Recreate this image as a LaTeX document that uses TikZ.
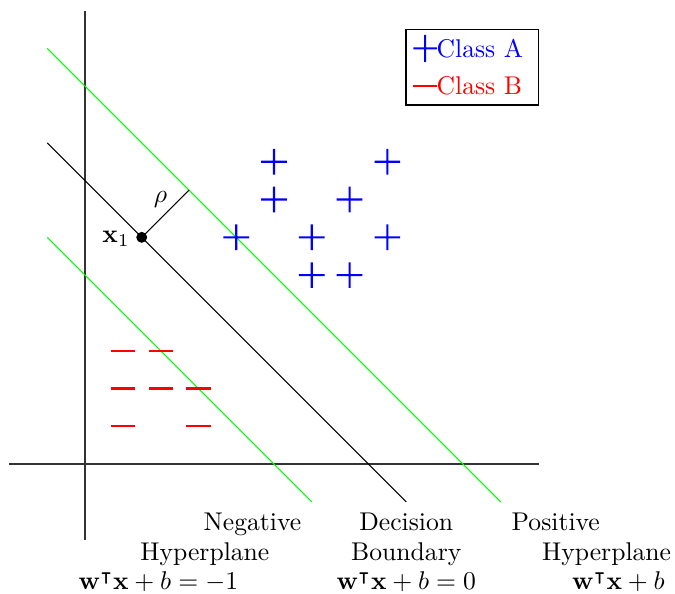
\documentclass[tikz,border=0pt]{standalone}
\usepackage{amssymb}
\tikzset{
  lbl/.style={scale=1.93, inner sep=0pt, anchor=base},
  axisline/.style={draw=black!80, line width=1pt},
  thinline/.style={line width=0.75pt},
  plusmark/.pic={\fill[blue] (-0.34,-0.028) rectangle (0.34,0.028) (-0.028,-0.34) rectangle (0.028,0.34);},
  minusmark/.pic={\fill[red] (-0.32,-0.028) rectangle (0.32,0.028);},
  legplus/.pic={\fill[blue] (-0.31,-0.025) rectangle (0.31,0.025) (-0.025,-0.36) rectangle (0.025,0.36);},
  legminus/.pic={\fill[red] (-0.31,-0.025) rectangle (0.31,0.025);}
}
\begin{document}
\begin{tikzpicture}[x=1cm,y=1cm]
\useasboundingbox (-2.25,-3.43) rectangle (15.61,12.28);
% axes
\coordinate (xl) at (-2,0); \coordinate (xr) at (12,0);
\coordinate (yb) at (0,-2); \coordinate (yt) at (0,12);
\draw[axisline] (xl) -- (xr);
\draw[axisline] (yb) -- (yt);
% lines
\coordinate (gt1) at (-1,11); \coordinate (gt2) at (11,-1);
\coordinate (db1) at (-1,8.5); \coordinate (db2) at (8.5,-1);
\coordinate (gb1) at (-1,6); \coordinate (gb2) at (6,-1);
\draw[thinline, green] (gt1) -- (gt2);
\draw[thinline, black] (db1) -- (db2);
\draw[thinline, green] (gb1) -- (gb2);
% x1 and rho
\coordinate (x1) at (1.5,6);
\coordinate (rhoend) at (2.75,7.25);
\draw[thinline] (x1) -- (rhoend);
\fill (x1) circle (0.145);
\node[lbl] (x1lbl) at (0.82,5.86) {$\mathbf{x}_1$};
\node[lbl, anchor=center] (rholbl) at (2.0,7.0) {$\rho$};
% class A
\pic at (5,8) {plusmark};
\pic at (8,8) {plusmark};
\pic at (5,7) {plusmark};
\pic at (7,7) {plusmark};
\pic at (4,6) {plusmark};
\pic at (6,6) {plusmark};
\pic at (8,6) {plusmark};
\pic at (6,5) {plusmark};
\pic at (7,5) {plusmark};
% class B
\pic at (1,3) {minusmark};
\pic at (2,3) {minusmark};
\pic at (1,2) {minusmark};
\pic at (2,2) {minusmark};
\pic at (3,2) {minusmark};
\pic at (1,1) {minusmark};
\pic at (3,1) {minusmark};
% legend
\draw[line width=1.3pt] (8.5,9.5) rectangle (12,11.5);
\pic at (9,11) {legplus};
\pic at (9,10) {legminus};
\node[lbl, anchor=base west, text=blue] (lega) at (9.29,10.76) {Class A};
\node[lbl, anchor=base west, text=red] (legb) at (9.29,9.77) {Class B};
% labels
\node[lbl] (n1) at (4.43,-1.75) {Negative};
\node[lbl] (n2) at (3.17,-2.545) {Hyperplane};
\node[lbl] (n3) at (1.94,-3.325) {$\mathbf{w}^\intercal\mathbf{x}+b=-1$};
\node[lbl] (d1) at (8.5,-1.75) {Decision};
\node[lbl] (d2) at (8.5,-2.545) {Boundary};
\node[lbl] (d3) at (8.5,-3.325) {$\mathbf{w}^\intercal\mathbf{x}+b=0$};
\node[lbl] (p1) at (12.455,-1.75) {Positive};
\node[lbl] (p2) at (13.80,-2.545) {Hyperplane};
\node[lbl, anchor=base west] (p3) at (12.875,-3.325) {$\mathbf{w}^\intercal\mathbf{x}+b$};
\end{tikzpicture}
\end{document}
